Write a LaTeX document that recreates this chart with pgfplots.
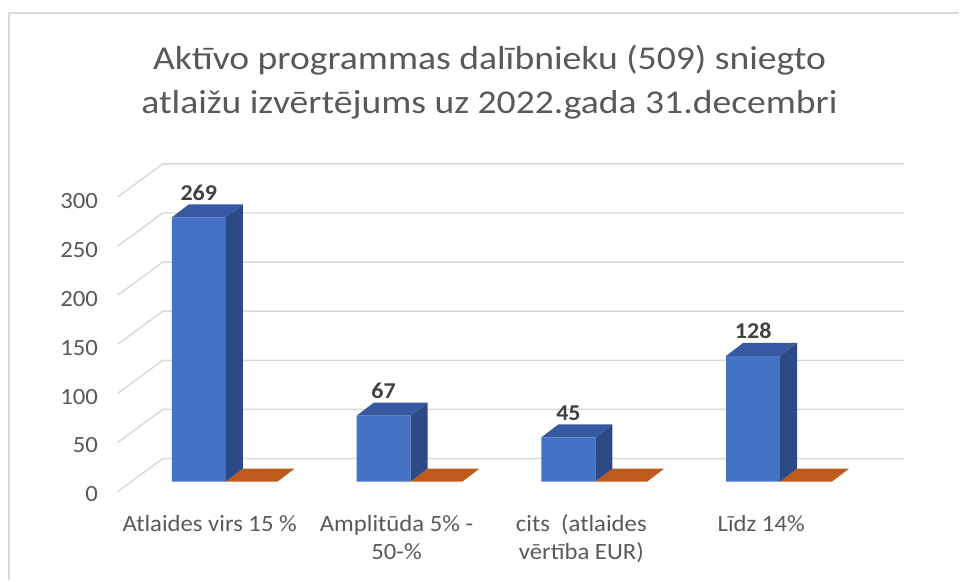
\documentclass[border=0pt]{standalone}
\usepackage{fontspec}
\setmainfont{Carlito}[FakeStretch=1.06]
\newfontfamily\titlefont{Carlito}[FakeStretch=1.13]
\usepackage{pgfplots}
\usepackage{pgfplotstable}
\pgfplotsset{compat=1.18}
\definecolor{barfront}{HTML}{4472C4}
\definecolor{bartop}{HTML}{3659A2}
\definecolor{barside}{HTML}{2C4A86}
\definecolor{orng}{HTML}{BE5B1C}
\definecolor{gridc}{HTML}{D9D9D9}
\definecolor{txt}{HTML}{595959}
\definecolor{lbl}{HTML}{404040}
\pgfplotstableread{
x v
0 269
1 67
2 45
3 128
}\data
\begin{document}
\begin{tikzpicture}
\begin{axis}[
  width=720pt, height=435.75pt, scale only axis,
  xmin=-1.0757, xmax=4.1135, ymin=-100.7, ymax=490.3,
  axis lines=none, clip=false,
]
\path (rel axis cs:0,0) rectangle (rel axis cs:1,1);
% chart border
\addplot[gridc, line width=1.5pt] coordinates {(-1.027,-100.7) (-1.027,477.4) (4.1135,477.4)};
% gridlines (left wall + back wall)
\pgfplotsinvokeforeach{0,50,100,150,200,250,300}{
  \addplot[gridc, line width=1.1pt] table[row sep=\\, y expr=\thisrow{y}+#1]{x y\\ -0.438 -10.2\\ -0.195 23.4\\ 3.816 23.4\\};
  \node[anchor=east, text=txt, font=\fontsize{17.5}{20}\selectfont] at (axis cs:-0.52,{0.997*#1-13.2}) {#1};
}
% series 2 (zero values), drawn flat
\addplot[fill=orng, draw=none] coordinates {(0.146,0) (0.427,0) (0.519,13.2) (0.238,13.2)} -- cycle;
\addplot[fill=orng, draw=none] coordinates {(1.146,0) (1.427,0) (1.519,13.2) (1.238,13.2)} -- cycle;
\addplot[fill=orng, draw=none] coordinates {(2.146,0) (2.427,0) (2.519,13.2) (2.238,13.2)} -- cycle;
\addplot[fill=orng, draw=none] coordinates {(3.146,0) (3.427,0) (3.519,13.2) (3.238,13.2)} -- cycle;
% bar fronts
\addplot[ybar, bar width=0.292, bar shift=0pt, fill=barfront, draw=none] table[x=x, y=v]{\data};
% side faces
\addplot[fill=barside, draw=none] coordinates {(0.146,0) (0.238,13.2) (0.238,282.2) (0.146,269)} -- cycle;
\addplot[fill=barside, draw=none] coordinates {(1.146,0) (1.238,13.2) (1.238,80.2) (1.146,67)} -- cycle;
\addplot[fill=barside, draw=none] coordinates {(2.146,0) (2.238,13.2) (2.238,58.2) (2.146,45)} -- cycle;
\addplot[fill=barside, draw=none] coordinates {(3.146,0) (3.238,13.2) (3.238,141.2) (3.146,128)} -- cycle;
% top faces
\addplot[fill=bartop, draw=none] coordinates {(-0.146,269) (0.146,269) (0.238,282.2) (-0.054,282.2)} -- cycle;
\addplot[fill=bartop, draw=none] coordinates {(0.854,67) (1.146,67) (1.238,80.2) (0.946,80.2)} -- cycle;
\addplot[fill=bartop, draw=none] coordinates {(1.854,45) (2.146,45) (2.238,58.2) (1.946,58.2)} -- cycle;
\addplot[fill=bartop, draw=none] coordinates {(2.854,128) (3.146,128) (3.238,141.2) (2.946,141.2)} -- cycle;
% data labels
\addplot[only marks, mark=none, nodes near coords, point meta=explicit symbolic,
  nodes near coords style={anchor=base, text=lbl, font=\bfseries\fontsize{17}{19}\selectfont, inner sep=0pt}]
  table[row sep=\\, x=x, y expr=\thisrow{v}+17.5, meta=v]{x v\\ 0 269\\ 1 67\\ 2 45\\ 3 128\\};
% title
\node[anchor=base, text=txt, font=\titlefont\fontsize{25}{30}\selectfont] at (axis cs:1.573,{(482-70)/0.983}) {Aktīvo programmas dalībnieku (509) sniegto};
\node[anchor=base, text=txt, font=\titlefont\fontsize{25}{30}\selectfont] at (axis cs:1.573,{(482-114)/0.983}) {atlaižu izvērtējums uz 2022.gada 31.decembri};
% category labels
\node[anchor=base, text=txt, font=\fontsize{17.5}{20}\selectfont] at (axis cs:0.059,-50.9) {Atlaides virs 15 \%};
\node[anchor=base, text=txt, font=\fontsize{17.5}{20}\selectfont] at (axis cs:1.070,-50.9) {Amplitūda 5\% -};
\node[anchor=base, text=txt, font=\fontsize{17.5}{20}\selectfont] at (axis cs:1.070,-79.3) {50-\%};
\node[anchor=base, text=txt, font=\fontsize{17.5}{20}\selectfont] at (axis cs:2.070,-50.9) {cits\ \ (atlaides};
\node[anchor=base, text=txt, font=\fontsize{17.5}{20}\selectfont] at (axis cs:2.070,-79.3) {vērtība EUR)};
\node[anchor=base, text=txt, font=\fontsize{17.5}{20}\selectfont] at (axis cs:3.043,-50.9) {Līdz 14\%};
\end{axis}
\end{tikzpicture}
\end{document}
